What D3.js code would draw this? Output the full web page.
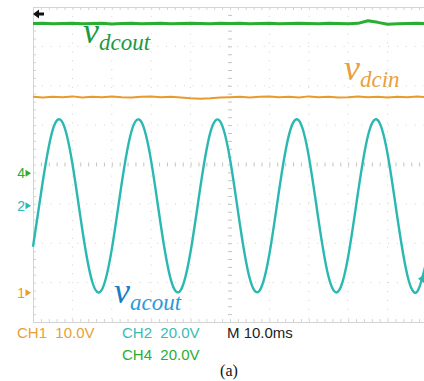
<!DOCTYPE html>
<html>
<head>
<meta charset="utf-8">
<script src="https://cdn.jsdelivr.net/npm/d3@7"></script>
<style>
  html, body { margin: 0; padding: 0; background: #fff; }
  svg { display: block; }
  .scope { font-family: 'Liberation Sans Narrow', 'Arial Narrow', 'Liberation Sans', sans-serif; }
  .lbl { font-family: 'Liberation Serif', 'Times New Roman', serif; font-style: italic; }
</style>
</head>
<body>
<div id="scope"></div>
<script>
// sample times (ms from the left edge of the screen), 2.5 ms apart
const timeMs = [0, 2.5, 5, 7.5, 10, 12.5, 15, 17.5, 20, 22.5, 25, 27.5, 30, 32.5, 35, 37.5, 40, 42.5, 45, 47.5,
  50, 52.5, 55, 57.5, 60, 62.5, 65, 67.5, 70, 72.5, 75, 77.5, 80, 82.5, 85, 87.5, 90, 92.5, 95, 97.5, 100];

// CH4 - dc output (V)
const vdcout = [76.0, 76.1, 75.9, 76.0, 76.2, 75.9, 76.0, 76.1, 75.8, 76.0, 76.1, 75.9, 76.0, 76.2, 75.9, 76.0, 76.1, 76.0, 75.9, 76.1,
  76.0, 76.2, 75.9, 76.0, 76.1, 75.9, 76.0, 76.2, 76.0, 75.9, 76.1, 76.0, 75.9, 76.1, 77.4, 76.6, 75.6, 75.9, 76.0, 76.1, 76.0];

// CH1 - dc input (V)
const vdcin = [49.8, 49.6, 49.8, 49.7, 49.9, 49.6, 49.8, 49.7, 49.9, 49.7, 49.6, 49.8, 49.9, 49.7, 49.8, 49.6, 49.4, 49.3, 49.4, 49.6,
  49.7, 49.8, 49.6, 49.8, 49.9, 49.7, 49.8, 49.6, 49.9, 49.7, 49.8, 49.6, 49.7, 49.9, 49.7, 49.8, 49.6, 49.8, 49.7, 49.9, 49.7];

// CH2 - ac output (V)
const vacout = [-20.8, 12.6, 38.6, 42.3, 21.4, -11.9, -38.3, -42.5, -22.0, 11.2, 37.9, 42.6, 22.6, -10.6, -37.6, -42.8, -23.2, 9.8, 37.2, 42.9,
  23.8, -9.2, -36.8, -43.1, -24.5, 8.4, 36.3, 43.3, 25.1, -7.6, -35.9, -43.4, -25.7, 6.9, 35.5, 43.5, 26.3, -6.2, -35.1, -43.6, -26.8];

// channel settings: volts per division and ground marker position (divisions from centre)
const channels = [
  { id: '1', vdiv: 10, offset: -3.26, color: '#e89a2c', data: vdcin, width: 2 },
  { id: '2', vdiv: 20, offset: -1.05, color: '#2bb8b2', data: vacout, width: 2.4 },
  { id: '4', vdiv: 20, offset: -0.22, color: '#2aae32', data: vdcout, width: 3 }
];

const readouts = [
  { text: 'CH1  10.0V', color: '#e8a038', x: 17, y: 338 },
  { text: 'CH2  20.0V', color: '#3bbab2', x: 122, y: 338 },
  { text: 'M 10.0ms', color: '#222', x: 227, y: 338 },
  { text: 'CH4  20.0V', color: '#2aae32', x: 122, y: 360 }
];

const width = 424;
const height = 381;

const svg = d3.select('#scope')
  .append('svg')
  .attr('width', width)
  .attr('height', height)
  .attr('viewBox', [0, 0, width, height]);

// screen is 10 x 8 divisions
const x = d3.scaleLinear().domain([0, 100]).range([33, 427]);
const yDiv = d3.scaleLinear().domain([-4, 4]).range([322, 7]);

// graticule
const grid = svg.append('g').attr('stroke', '#d2d2d2').attr('stroke-width', 1);

grid.selectAll('.vgrid')
  .data(d3.range(1, 10).filter((d) => d !== 5))
  .join('line')
  .attr('x1', (d) => x(d * 10))
  .attr('x2', (d) => x(d * 10))
  .attr('y1', yDiv(4))
  .attr('y2', yDiv(-4))
  .attr('stroke-dasharray', '1 7.875');

grid.selectAll('.hgrid')
  .data(d3.range(-3, 4).filter((d) => d !== 0))
  .join('line')
  .attr('x1', x(0))
  .attr('x2', x(100))
  .attr('y1', (d) => yDiv(d))
  .attr('y2', (d) => yDiv(d))
  .attr('stroke-dasharray', '1 7.875');

// minor ticks on the centre lines and borders
const minorX = d3.range(0, 100.01, 2);
const minorY = d3.range(-4, 4.01, 0.2);

const tickAxis = (axis, size) => axis.tickSize(size).tickFormat('');

svg.append('g')
  .attr('transform', `translate(0,${yDiv(0)})`)
  .call(tickAxis(d3.axisBottom(x), 2).tickValues(minorX))
  .call((g) => g.select('.domain').remove())
  .call((g) => g.selectAll('.tick line').attr('stroke', '#c4c4c4').attr('y1', -2));

svg.append('g')
  .attr('transform', `translate(${x(50)},0)`)
  .call(tickAxis(d3.axisLeft(yDiv), 2).tickValues(minorY))
  .call((g) => g.select('.domain').remove())
  .call((g) => g.selectAll('.tick line').attr('stroke', '#c4c4c4').attr('x1', 2));

svg.append('g')
  .attr('transform', `translate(0,${yDiv(4)})`)
  .call(tickAxis(d3.axisBottom(x), 3).tickValues(minorX))
  .call((g) => g.selectAll('path, line').attr('stroke', '#d4d4d4'));

svg.append('g')
  .attr('transform', `translate(0,${yDiv(-4)})`)
  .call(tickAxis(d3.axisTop(x), 3).tickValues(minorX))
  .call((g) => g.selectAll('path, line').attr('stroke', '#d4d4d4'));

svg.append('g')
  .attr('transform', `translate(${x(0)},0)`)
  .call(tickAxis(d3.axisRight(yDiv), 3).tickValues(minorY))
  .call((g) => g.selectAll('path, line').attr('stroke', '#d4d4d4'));

// traces
channels.forEach((ch) => {
  const y = (v) => yDiv(ch.offset + v / ch.vdiv);
  const line = d3.line()
    .x((d, i) => x(timeMs[i]))
    .y((d) => y(d))
    .curve(ch.id === '2' ? d3.curveNatural : d3.curveLinear);

  svg.append('path')
    .datum(ch.data)
    .attr('fill', 'none')
    .attr('stroke', ch.color)
    .attr('stroke-width', ch.width)
    .attr('stroke-linejoin', 'round')
    .attr('d', line);

  // ground marker on the left
  const gy = yDiv(ch.offset);
  const mk = svg.append('g').attr('class', 'scope').attr('fill', ch.color);
  mk.append('text')
    .attr('x', 25)
    .attr('y', gy + 5)
    .attr('text-anchor', 'end')
    .attr('font-size', 14)
    .text(ch.id);
  mk.append('path')
    .attr('d', `M25.5,${gy - 3.5}L31,${gy}L25.5,${gy + 3.5}Z`);
});

// trigger position and trigger level markers
svg.append('path')
  .attr('d', 'M33,14L39,9.5V12.5H44V15.5H39V18.5Z')
  .attr('fill', '#111');

const trig = yDiv(channels[1].offset + -37 / channels[1].vdiv);
svg.append('path')
  .attr('d', `M418,${trig}L425,${trig - 5}V${trig + 5}Z`)
  .attr('fill', '#2bb8b2');

// trace labels
const labels = [
  { main: 'v', sub: 'dcout', x: 83, y: 43, color: '#1a9a42' },
  { main: 'v', sub: 'dcin', x: 344, y: 80, color: '#e8a040' },
  { main: 'v', sub: 'acout', x: 114, y: 303, color: '#1a7cc6', subColor: '#2c9ad8' }
];

labels.forEach((l) => {
  const t = svg.append('text')
    .attr('class', 'lbl')
    .attr('x', l.x)
    .attr('y', l.y)
    .attr('fill', l.color);
  t.append('tspan').attr('font-size', 36).text(l.main);
  t.append('tspan')
    .attr('font-size', 23)
    .attr('dy', 7)
    .attr('fill', l.subColor || l.color)
    .text(l.sub);
});

// readouts
svg.append('g')
  .attr('class', 'scope')
  .selectAll('text')
  .data(readouts)
  .join('text')
  .attr('x', (d) => d.x)
  .attr('y', (d) => d.y)
  .attr('font-size', 15)
  .attr('fill', (d) => d.color)
  .attr('xml:space', 'preserve')
  .style('white-space', 'pre')
  .text((d) => d.text);

svg.append('text')
  .attr('x', 229)
  .attr('y', 376)
  .attr('text-anchor', 'middle')
  .attr('font-family', "'Liberation Serif', 'Times New Roman', serif")
  .attr('font-size', 16)
  .attr('fill', '#111')
  .text('(a)');
</script>
</body>
</html>
